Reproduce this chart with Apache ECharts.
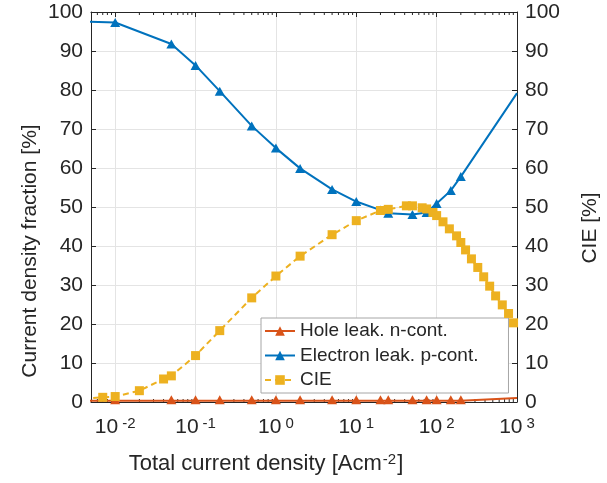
<!DOCTYPE html>
<html>
<head>
<meta charset="utf-8">
<script src="https://cdn.jsdelivr.net/npm/echarts@6/dist/echarts.min.js"></script>
<style>
  html, body { margin: 0; padding: 0; background: #ffffff; }
  #chart { width: 607px; height: 483px; }
</style>
</head>
<body>
<div id="chart"></div>
<script>
// Total current density (A/cm^2) at which the leakage fractions were evaluated
const leakJ = [0.001, 0.01, 0.05, 0.1, 0.2, 0.5, 1, 2, 5, 10, 20, 25, 50, 75, 100, 150, 200, 1000];
// Hole leakage into the n-contact [%]
const holeLeak = [0.3, 0.3, 0.3, 0.3, 0.3, 0.3, 0.3, 0.3, 0.3, 0.3, 0.3, 0.3, 0.3, 0.3, 0.3, 0.3, 0.3, 1.0];
// Electron leakage into the p-contact [%]
const electronLeak = [98.0, 97.3, 91.8, 86.3, 79.7, 70.8, 65.1, 59.9, 54.5, 51.4, 49.2, 48.4, 48.1, 48.6, 50.9, 54.2, 57.8, 79.2];
// Markers are only drawn up to this current density on the leakage curves
const leakMarkerMaxJ = 200;

// Current density (A/cm^2) for the injection efficiency curve
const cieJ = [0.004, 0.007, 0.01, 0.02, 0.04, 0.05, 0.1, 0.2, 0.5, 1, 2, 5, 10, 20, 25, 42, 50, 66, 75, 90,
              100, 120, 144, 177, 200, 229, 271, 325, 385, 457, 542, 656, 785, 906];
// Current injection efficiency [%]
const cieValues = [0.9, 1.2, 1.4, 2.9, 5.9, 6.7, 11.9, 18.3, 26.7, 32.3, 37.4, 42.9, 46.5, 49.1, 49.4, 50.3, 50.3, 49.8, 49.5, 48.6,
                   47.8, 46.2, 44.4, 42.6, 40.9, 39.0, 36.7, 34.5, 32.1, 29.7, 27.2, 24.9, 22.7, 20.3];

const seriesNames = ['Hole leak. n-cont.', 'Electron leak. p-cont.', 'CIE'];
const xTitle = 'Total current density [Acm{s|-2}]';
const yTitleLeft = 'Current density fraction [%]';
const yTitleRight = 'CIE [%]';

const xMin = 0.005, xMax = 1000;
const yMin = 0, yMax = 100, yStep = 10;

const FONT = '"Liberation Sans", Arial, Helvetica, sans-serif';
const INK = '#262626';
const GRID = '#e4e4e4';

// minor tick positions (2..9 x 10^n) inside the visible x range
const minorTicks = [];
for (let p = -3; p <= 3; p++) {
  for (let k = 2; k <= 9; k++) {
    const v = k * Math.pow(10, p);
    if (v > xMin && v < xMax) minorTicks.push(v);
  }
}

function pairs(xs, ys, maxMarkJ) {
  return xs.map((x, i) => {
    const item = { value: [x, ys[i]] };
    if (maxMarkJ !== undefined && x > maxMarkJ) item.symbol = 'none';
    return item;
  });
}

function powerLabel(v) {
  const p = Math.log10(v);
  const r = Math.round(p);
  if (Math.abs(p - r) > 1e-6) return '';
  return '{b|10}{s|' + r + '}';
}

const xAxisBase = {
  type: 'log',
  logBase: 10,
  min: xMin,
  max: xMax,
  axisLine: { show: true, onZero: false, lineStyle: { color: INK, width: 1 } },
  axisTick: { show: true, inside: true, length: 5, lineStyle: { color: INK, width: 1 } },
  minorTick: { show: false },
  minorSplitLine: { show: false }
};

const yAxisBase = {
  type: 'value',
  min: yMin,
  max: yMax,
  interval: yStep,
  axisLine: { show: true, lineStyle: { color: INK, width: 1 } },
  axisTick: { show: true, inside: true, length: 5, lineStyle: { color: INK, width: 1 } },
  axisLabel: { color: INK, fontSize: 21, fontFamily: FONT, margin: 8 }
};

const chart = echarts.init(document.getElementById('chart'), null, { renderer: 'canvas' });

chart.setOption({
  animation: false,
  backgroundColor: '#ffffff',
  textStyle: { fontFamily: FONT, color: INK },
  grid: { left: 91, top: 12, width: 426, height: 390, containLabel: false },
  xAxis: [
    Object.assign({}, xAxisBase, {
      position: 'bottom',
      splitLine: { show: true, lineStyle: { color: GRID, width: 1 } },
      axisLabel: {
        show: true,
        margin: 14,
        formatter: powerLabel,
        showMinLabel: false,
        rich: {
          b: { fontSize: 21, color: INK, fontFamily: FONT, verticalAlign: 'bottom', lineHeight: 22 },
          s: { fontSize: 15, color: INK, fontFamily: FONT, verticalAlign: 'top', padding: [0, 0, 0, 4], lineHeight: 22 }
        }
      }
    }),
    Object.assign({}, xAxisBase, {
      position: 'top',
      splitLine: { show: false },
      axisLabel: { show: false }
    })
  ],
  yAxis: [
    Object.assign({}, yAxisBase, {
      position: 'left',
      splitLine: { show: true, lineStyle: { color: GRID, width: 1 } }
    }),
    Object.assign({}, yAxisBase, {
      position: 'right',
      splitLine: { show: false }
    })
  ],
  legend: {
    data: seriesNames,
    orient: 'vertical',
    left: 261,
    top: 318,
    itemWidth: 30,
    itemHeight: 12,
    itemGap: 4.5,
    padding: [3, 30, 3, 3],
    backgroundColor: '#ffffff',
    borderColor: '#a6a6a6',
    borderWidth: 1,
    borderRadius: 0,
    textStyle: { fontSize: 19, color: INK, fontFamily: FONT, lineHeight: 20 }
  },
  graphic: [
    {
      type: 'text', x: 30, y: 251, rotation: Math.PI / 2,
      style: { text: yTitleLeft, font: '21px ' + FONT, fill: INK, align: 'center', verticalAlign: 'middle' }
    },
    {
      type: 'text', x: 590, y: 228, rotation: Math.PI / 2,
      style: { text: yTitleRight, font: '21px ' + FONT, fill: INK, align: 'center', verticalAlign: 'middle' }
    },
    {
      type: 'text', x: 266, y: 464,
      style: {
        text: xTitle, font: '22px ' + FONT, fill: INK, align: 'center', verticalAlign: 'middle',
        rich: { s: { fontSize: 15, fontFamily: FONT, fill: INK, verticalAlign: 'top', padding: [0, 1, 8, 1] } }
      }
    }
  ],
  series: [
    {
      name: seriesNames[0],
      type: 'line',
      data: pairs(leakJ, holeLeak, leakMarkerMaxJ),
      symbol: 'triangle',
      symbolSize: [10, 9],
      symbolOffset: [0, -1],
      color: '#D95319',
      lineStyle: { width: 2 },
      itemStyle: { color: '#D95319' },
      z: 3
    },
    {
      name: seriesNames[1],
      type: 'line',
      data: pairs(leakJ, electronLeak, leakMarkerMaxJ),
      symbol: 'triangle',
      symbolSize: [10, 9],
      color: '#0072BD',
      lineStyle: { width: 2 },
      itemStyle: { color: '#0072BD' },
      z: 4
    },
    {
      name: seriesNames[2],
      type: 'line',
      yAxisIndex: 1,
      data: pairs(cieJ, cieValues),
      symbol: 'rect',
      symbolSize: 9,
      color: '#EDB120',
      lineStyle: { width: 2, type: [6, 4] },
      itemStyle: { color: '#EDB120' },
      z: 5
    },
    {
      // minor log ticks along the bottom and top frame
      type: 'custom',
      silent: true,
      data: minorTicks.map(v => [v, 0]),
      renderItem: function (params, api) {
        const v = api.value(0);
        const b = api.coord([v, yMin]);
        const t = api.coord([v, yMax]);
        return {
          type: 'group',
          children: [
            { type: 'line', shape: { x1: b[0], y1: b[1], x2: b[0], y2: b[1] - 3 }, style: { stroke: INK, lineWidth: 1 } },
            { type: 'line', shape: { x1: t[0], y1: t[1], x2: t[0], y2: t[1] + 3 }, style: { stroke: INK, lineWidth: 1 } }
          ]
        };
      },
      z: 1
    }
  ]
});
</script>
</body>
</html>
